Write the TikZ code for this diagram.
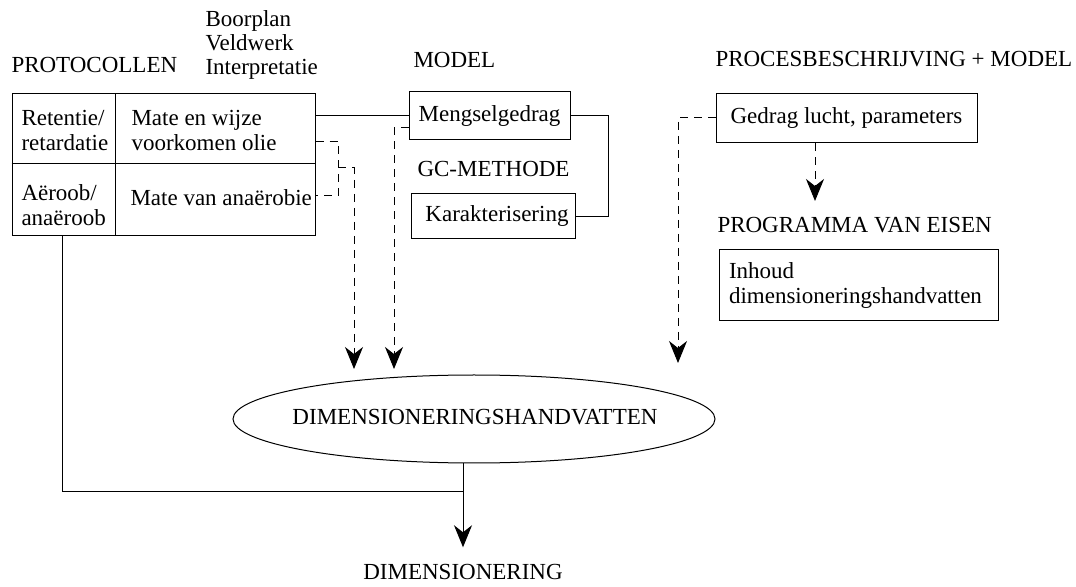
\documentclass[tikz,border=0pt]{standalone}
\usepackage{fontspec}
\setmainfont{Liberation Serif}
\usetikzlibrary{arrows.meta,calc,shapes.geometric}

\begin{document}
\begin{tikzpicture}[x=0.5pt, y=-0.5pt, line width=0.5pt,
  font=\fontsize{11.5}{12.5}\selectfont,
  >={Stealth[length=11pt,width=9pt,inset=3.5pt]},
  box/.style={draw, inner sep=0pt},
  txt/.style={inner sep=0pt, anchor=base west},
  cell/.style={inner sep=0pt, anchor=west, align=left},
  dline/.style={dash pattern=on 4pt off 3pt}]
  \useasboundingbox (0,0) rectangle (1076,587);
  % headings
  \node[txt] (protlbl) at (11,73) {PROTOCOLLEN};
  \node[cell, font=\fontsize{11.5}{12}\selectfont] (steps) at (205,45) {Boorplan\\Veldwerk\\Interpretatie};
  \node[txt] (modellbl) at (413,68) {MODEL};
  \node[txt] (gclbl) at (417,177) {GC-METHODE};
  \node[txt] (proclbl) at (715,67) {PROCESBESCHRIJVING + MODEL};
  \node[txt] (pvelbl) at (717,233) {PROGRAMMA VAN EISEN};
  % protocol table
  \node[box, minimum width=151.5pt, minimum height=71pt] (prot) at (163.5,165) {};
  \draw (prot.west) ++(0,-1) -- ($(prot.east)+(0,-1)$);
  \draw (prot.north west) ++(104,0) -- +(0,142);
  \node[cell] (ret) at (21,131) {Retentie/\\retardatie};
  \node[cell] (mate) at (131,131) {Mate en wijze\\voorkomen olie};
  \node[cell] (aer) at (21,205) {Aëroob/\\anaëroob};
  \node[cell] (anaer) at (130,198) {Mate van anaërobie};
  % model boxes
  \node[box, minimum width=80.5pt, minimum height=24pt] (meng) at (489.5,116) {Mengselgedrag};
  \node[box, minimum width=82pt, minimum height=22.5pt] (kar) at (493,216.5) {\hspace{4pt}Karakterisering};
  \node[box, minimum width=130.5pt, minimum height=24.5pt] (gedrag) at (846.5,118.5) {Gedrag lucht, parameters\hspace{8pt}};
  \node[box, minimum width=139.5pt, minimum height=35.5pt, text width=129.5pt, align=left] (inhoud) at (858.5,285.5) {Inhoud\\dimensioneringshandvatten};
  % result
  \node[draw, ellipse, minimum width=241pt, minimum height=44pt, inner sep=0pt] (ell) at (474,419) {};
  \node[inner sep=0pt] (elltxt) at (475,417) {DIMENSIONERINGSHANDVATTEN};
  \node[txt, anchor=base] (dim) at (463,579) {DIMENSIONERING};
  % arrow ends above the ellipse
  \coordinate (h1) at (354,369);
  \coordinate (h2) at (394,369);
  \coordinate (h3) at (678,363);
  \coordinate (h4) at (815,201);
  \coordinate (ta) at ($(prot.north east)+(0,48)$);
  \coordinate (tb) at ($(prot.north east)+(0,102)$);
  \coordinate (j1) at (338,168);
  \coordinate (eb) at ($(ell.south)+(-11,0)$);
  \coordinate (m) at ($(eb)+(0,28)$);
  % solid links
  \draw (prot.east |- meng.west) -- (meng.west);
  \draw (meng.east) -- ++(38,0) |- (kar.east);
  \draw ($(prot.south west)+(51,0)$) |- (m);
  \draw[->, shorten >=8pt] (eb) -- (dim.north);
  % dashed links
  \draw[dline] (ta) -- ++(23,0) |- (tb);
  \draw[dline, ->] (j1) -| (h1);
  \draw[dline, ->] ($(meng.west)+(0,12)$) -| (h2);
  \draw[dline, ->] ($(gedrag.west)+(0,-1)$) -| (h3);
  \draw[dline, ->] (gedrag.south -| h4) -- (h4);
\end{tikzpicture}
\end{document}
